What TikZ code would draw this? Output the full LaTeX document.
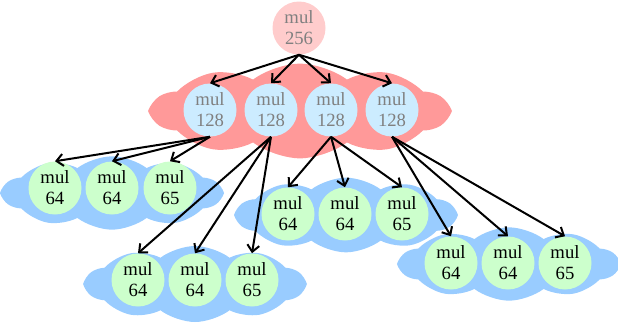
\documentclass[tikz,border=0pt]{standalone}
\usepackage{fontspec}
\setmainfont{Liberation Serif}
\usetikzlibrary{shapes.symbols,arrows.meta}
\definecolor{rootpink}{RGB}{255,204,204}
\definecolor{midblue}{RGB}{204,236,255}
\definecolor{leafgreen}{RGB}{204,255,204}
\definecolor{redpuff}{RGB}{255,153,153}
\definecolor{bluepuff}{RGB}{153,204,255}
\definecolor{mulgray}{RGB}{128,128,128}

\begin{document}
\begin{tikzpicture}[x=0.75pt,y=-0.75pt,
    mulnode/.style={circle,minimum size=39.75pt,inner sep=0pt,align=center,
      font=\fontsize{14}{15.75}\selectfont},
    topnode/.style={mulnode,fill=rootpink,text=mulgray},
    midnode/.style={mulnode,fill=midblue,text=mulgray},
    leafnode/.style={mulnode,fill=leafgreen,text=black},
    puff/.style={cloud,cloud puffs=10,cloud puff arc=75,cloud ignores aspect,inner sep=0pt},
    link/.style={line width=1.5pt,-{Straight Barb[length=5pt,width=9pt]}}]
    \useasboundingbox (0,0) rectangle (618,326);

    \node[puff,fill=redpuff,minimum width=222pt,minimum height=71pt] (redcloud) at (300,111) {};
    \node[puff,fill=bluepuff,minimum width=164pt,minimum height=55pt] (clouda) at (112,193) {};
    \node[puff,fill=bluepuff,minimum width=164pt,minimum height=57pt] (cloudb) at (195,284) {};
    \node[puff,fill=bluepuff,minimum width=164pt,minimum height=56pt] (cloudc) at (346,215) {};
    \node[puff,fill=bluepuff,minimum width=164pt,minimum height=55pt] (cloudd) at (509,264) {};

    \node[topnode] (root) at (299,28) {mul\\256};

    \node[midnode] (m1) at (210,110) {mul\\128};
    \node[midnode] (m2) at (271,110) {mul\\128};
    \node[midnode] (m3) at (331,110) {mul\\128};
    \node[midnode] (m4) at (392,110) {mul\\128};

    \node[leafnode] (a1) at (55,188) {mul\\64};
    \node[leafnode] (a2) at (112,188) {mul\\64};
    \node[leafnode] (a3) at (170,188) {mul\\65};

    \node[leafnode] (b1) at (138,280) {mul\\64};
    \node[leafnode] (b2) at (195,280) {mul\\64};
    \node[leafnode] (b3) at (252,280) {mul\\65};

    \node[leafnode] (c1) at (288,214) {mul\\64};
    \node[leafnode] (c2) at (345,214) {mul\\64};
    \node[leafnode] (c3) at (402,214) {mul\\65};

    \node[leafnode] (d1) at (451,263) {mul\\64};
    \node[leafnode] (d2) at (508,263) {mul\\64};
    \node[leafnode] (d3) at (565,263) {mul\\65};

    \draw[link] (root.south) -- (m1.north);
    \draw[link] (root.south) -- (m2.north);
    \draw[link] (root.south) -- (m3.north);
    \draw[link] (root.south) -- (m4.north);

    \draw[link] (m1.south) -- (a1.north);
    \draw[link] (m1.south) -- (a2.north);
    \draw[link] (m1.south) -- (a3.north);

    \draw[link] (m2.south) -- (b1.north);
    \draw[link] (m2.south) -- (b2.north);
    \draw[link] (m2.south) -- (b3.north);

    \draw[link] (m3.south) -- (c1.north);
    \draw[link] (m3.south) -- (c2.north);
    \draw[link] (m3.south) -- (c3.north);

    \draw[link] (m4.south) -- (d1.north);
    \draw[link] (m4.south) -- (d2.north);
    \draw[link] (m4.south) -- (d3.north);
\end{tikzpicture}
\end{document}
